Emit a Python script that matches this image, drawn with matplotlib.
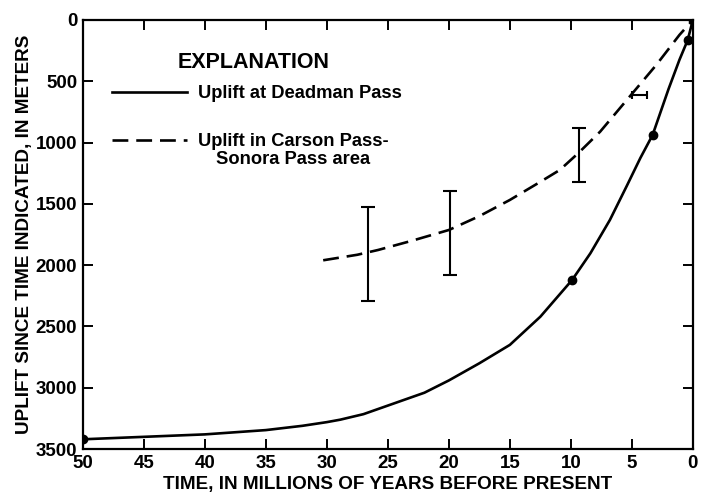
import matplotlib
matplotlib.use("Agg")
import matplotlib.pyplot as plt

plt.rcParams['font.family'] = ['Liberation Sans', 'DejaVu Sans']

# uplift at Deadman Pass (solid curve)
deadman_t = [50, 45, 40, 35, 32, 30, 28.9, 27, 25, 22, 20, 17.5, 15, 12.5,
             9.9, 8.4, 6.8, 5.4, 4.3, 3.3, 2.0, 1.1, 0.42, 0]
deadman_u = [3420, 3400, 3380, 3345, 3310, 3280, 3260, 3215, 3145, 3040, 2940,
             2800, 2650, 2420, 2121, 1903, 1631, 1350, 1125, 938, 565, 325,
             163, 0]
deadman_pts_t = [50, 9.9, 3.3, 0.42, 0]
deadman_pts_u = [3420, 2121, 938, 163, 0]

# uplift in Carson Pass - Sonora Pass area (dashed curve)
carson_t = [30.3, 27.5, 25.8, 23, 20, 17.5, 15, 12.5, 10.9, 9.4, 7.6, 5.3,
            3.0, 1.1, 0]
carson_u = [1960, 1915, 1876, 1800, 1713, 1600, 1468, 1320, 1223, 1087, 911,
            639, 367, 122, 0]

# vertical error bars
bar_t = [26.6, 19.9, 9.3]
bar_top = [1527, 1395, 883]
bar_bottom = [2292, 2080, 1320]
# horizontal error bar
hbar_u = 615
hbar_left = 5.0
hbar_right = 3.8

fig, ax = plt.subplots(figsize=(7.02, 4.99), dpi=100)
fig.subplots_adjust(left=0.118, right=0.987, top=0.96, bottom=0.1)

ax.plot(deadman_t, deadman_u, color='black', lw=1.9,
        label='Uplift at Deadman Pass')
ax.plot(deadman_pts_t, deadman_pts_u, 'o', color='black', ms=6)
ax.plot(carson_t, carson_u, color='black', lw=1.9, dashes=(6, 3),
        label='Uplift in Carson Pass-')

for t, lo, hi in zip(bar_t, bar_top, bar_bottom):
    mid = (lo + hi) / 2
    ax.errorbar(t, mid, yerr=(hi - lo) / 2, color='black', lw=1.5,
                capsize=5, capthick=1.5)
hmid = (hbar_left + hbar_right) / 2
ax.errorbar(hmid, hbar_u, xerr=(hbar_left - hbar_right) / 2, color='black',
            lw=1.5, capsize=3, capthick=1.5)

ax.set_xlim(50, 0)
ax.set_ylim(3500, 0)
ax.set_xticks(range(50, -1, -5))
ax.set_yticks(range(0, 3501, 500))

for s in ax.spines.values():
    s.set_linewidth(1.6)
ax.tick_params(direction='in', length=7, width=1.4, top=True, right=True,
               labelsize=13.5, pad=4)
for lab in ax.get_xticklabels() + ax.get_yticklabels():
    lab.set_fontweight('bold')

ax.set_xlabel('TIME, IN MILLIONS OF YEARS BEFORE PRESENT', fontsize=13.6,
              fontweight='bold', labelpad=3)
ax.set_ylabel('UPLIFT SINCE TIME INDICATED, IN METERS', fontsize=13.6,
              fontweight='bold', labelpad=2)

# explanation box
ax.text(0.280, 0.900, 'EXPLANATION', transform=ax.transAxes, ha='center',
        va='center', fontsize=15.5, fontweight='bold')
leg = ax.legend(loc='upper left', bbox_to_anchor=(0.0475, 0.848),
                frameon=False, borderpad=0, borderaxespad=0,
                handlelength=4.1, handletextpad=0.6, labelspacing=1.69,
                fontsize=13.2)
for txt in leg.get_texts():
    txt.set_fontweight('bold')

# second line of the dashed-curve label, centred under the first line
fig.canvas.draw()
bb = leg.get_texts()[1].get_window_extent()
xc, yb = fig.transFigure.inverted().transform(((bb.x0 + bb.x1) / 2,
                                               bb.y0 - 1))
fig.text(xc, yb, 'Sonora Pass area', ha='center', va='top', fontsize=13.2,
         fontweight='bold')

fig.savefig('out.png', dpi=100)
